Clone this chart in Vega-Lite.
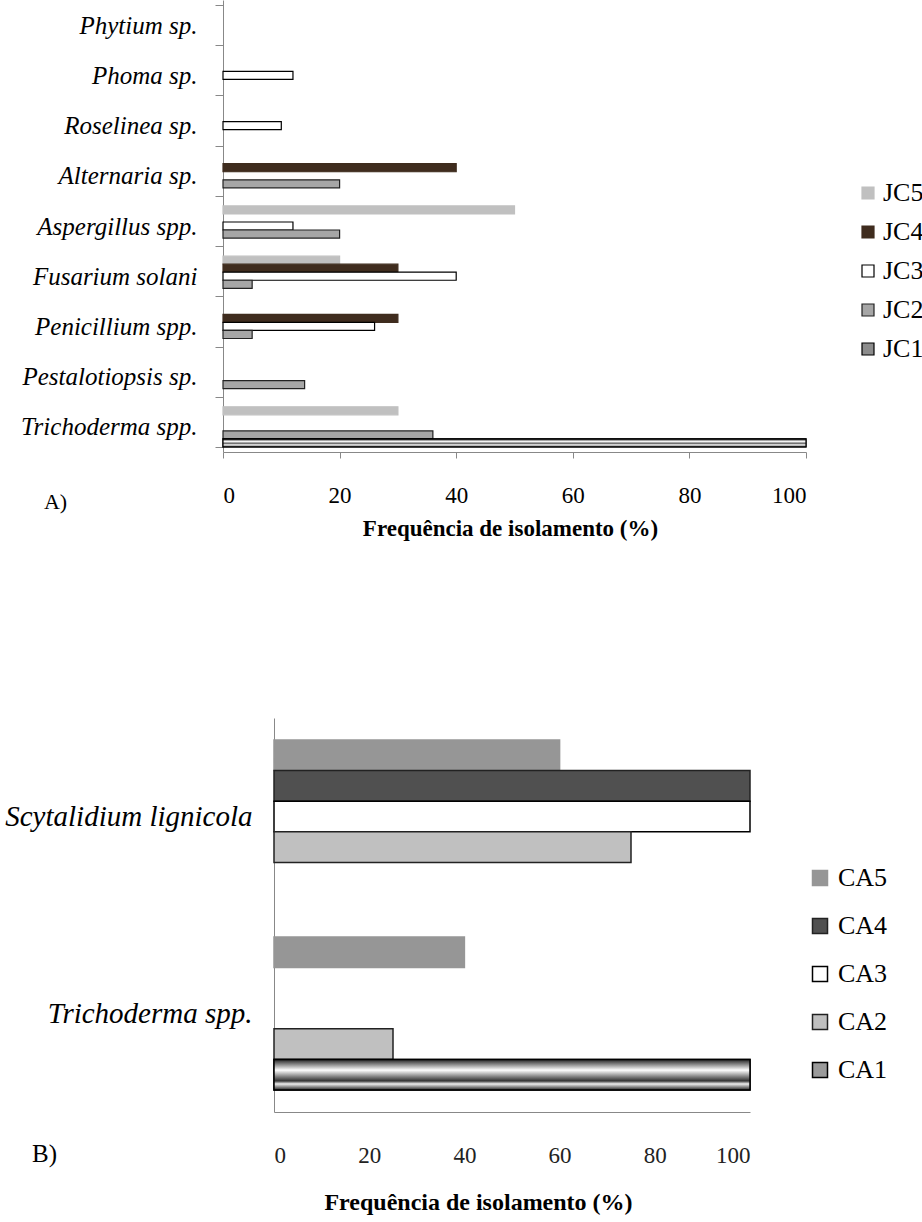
{
  "$schema": "https://vega.github.io/schema/vega-lite/v6.json",
  "background": "white",
  "width": 922,
  "height": 1222,
  "autosize": {"type": "none"},
  "padding": 0,
  "config": {
    "view": {"stroke": null},
    "font": "Liberation Serif",
    "axis": {"labelFont": "Liberation Serif", "titleFont": "Liberation Serif", "labelColor": "#000", "titleColor": "#000", "grid": false},
    "legend": {"labelFont": "Liberation Serif", "labelColor": "#000"}
  },
  "datasets": {
    "jc": [
      {"fungo": "Phytium sp.", "serie": "JC5", "valor": 0},
      {"fungo": "Phytium sp.", "serie": "JC4", "valor": 0},
      {"fungo": "Phytium sp.", "serie": "JC3", "valor": 0},
      {"fungo": "Phytium sp.", "serie": "JC2", "valor": 0},
      {"fungo": "Phytium sp.", "serie": "JC1", "valor": 0},
      {"fungo": "Phoma sp.", "serie": "JC5", "valor": 0},
      {"fungo": "Phoma sp.", "serie": "JC4", "valor": 0},
      {"fungo": "Phoma sp.", "serie": "JC3", "valor": 12},
      {"fungo": "Phoma sp.", "serie": "JC2", "valor": 0},
      {"fungo": "Phoma sp.", "serie": "JC1", "valor": 0},
      {"fungo": "Roselinea sp.", "serie": "JC5", "valor": 0},
      {"fungo": "Roselinea sp.", "serie": "JC4", "valor": 0},
      {"fungo": "Roselinea sp.", "serie": "JC3", "valor": 10},
      {"fungo": "Roselinea sp.", "serie": "JC2", "valor": 0},
      {"fungo": "Roselinea sp.", "serie": "JC1", "valor": 0},
      {"fungo": "Alternaria sp.", "serie": "JC5", "valor": 0},
      {"fungo": "Alternaria sp.", "serie": "JC4", "valor": 40},
      {"fungo": "Alternaria sp.", "serie": "JC3", "valor": 0},
      {"fungo": "Alternaria sp.", "serie": "JC2", "valor": 20},
      {"fungo": "Alternaria sp.", "serie": "JC1", "valor": 0},
      {"fungo": "Aspergillus spp.", "serie": "JC5", "valor": 50},
      {"fungo": "Aspergillus spp.", "serie": "JC4", "valor": 0},
      {"fungo": "Aspergillus spp.", "serie": "JC3", "valor": 12},
      {"fungo": "Aspergillus spp.", "serie": "JC2", "valor": 20},
      {"fungo": "Aspergillus spp.", "serie": "JC1", "valor": 0},
      {"fungo": "Fusarium solani", "serie": "JC5", "valor": 20},
      {"fungo": "Fusarium solani", "serie": "JC4", "valor": 30},
      {"fungo": "Fusarium solani", "serie": "JC3", "valor": 40},
      {"fungo": "Fusarium solani", "serie": "JC2", "valor": 5},
      {"fungo": "Fusarium solani", "serie": "JC1", "valor": 0},
      {"fungo": "Penicillium spp.", "serie": "JC5", "valor": 0},
      {"fungo": "Penicillium spp.", "serie": "JC4", "valor": 30},
      {"fungo": "Penicillium spp.", "serie": "JC3", "valor": 26},
      {"fungo": "Penicillium spp.", "serie": "JC2", "valor": 5},
      {"fungo": "Penicillium spp.", "serie": "JC1", "valor": 0},
      {"fungo": "Pestalotiopsis sp.", "serie": "JC5", "valor": 0},
      {"fungo": "Pestalotiopsis sp.", "serie": "JC4", "valor": 0},
      {"fungo": "Pestalotiopsis sp.", "serie": "JC3", "valor": 0},
      {"fungo": "Pestalotiopsis sp.", "serie": "JC2", "valor": 14},
      {"fungo": "Pestalotiopsis sp.", "serie": "JC1", "valor": 0},
      {"fungo": "Trichoderma spp.", "serie": "JC5", "valor": 30},
      {"fungo": "Trichoderma spp.", "serie": "JC4", "valor": 0},
      {"fungo": "Trichoderma spp.", "serie": "JC3", "valor": 0},
      {"fungo": "Trichoderma spp.", "serie": "JC2", "valor": 36},
      {"fungo": "Trichoderma spp.", "serie": "JC1", "valor": 100}
    ],
    "ca": [
      {"fungo": "Scytalidium lignicola", "amostra": "CA5", "valor": 60},
      {"fungo": "Scytalidium lignicola", "amostra": "CA4", "valor": 100},
      {"fungo": "Scytalidium lignicola", "amostra": "CA3", "valor": 100},
      {"fungo": "Scytalidium lignicola", "amostra": "CA2", "valor": 75},
      {"fungo": "Scytalidium lignicola", "amostra": "CA1", "valor": 0},
      {"fungo": "Trichoderma spp.", "amostra": "CA5", "valor": 40},
      {"fungo": "Trichoderma spp.", "amostra": "CA4", "valor": 0},
      {"fungo": "Trichoderma spp.", "amostra": "CA3", "valor": 0},
      {"fungo": "Trichoderma spp.", "amostra": "CA2", "valor": 25},
      {"fungo": "Trichoderma spp.", "amostra": "CA1", "valor": 100}
    ]
  },
  "resolve": {
    "scale": {"x": "independent", "y": "independent", "yOffset": "independent", "fill": "independent", "stroke": "independent"},
    "axis": {"x": "independent", "y": "independent"},
    "legend": {"fill": "independent", "stroke": "independent"}
  },
  "layer": [
    {
      "data": {"name": "jc"},
      "transform": [{"filter": "datum.valor > 0"}],
      "encoding": {
        "y": {
          "field": "fungo", "type": "nominal",
          "scale": {
            "domain": ["Phytium sp.", "Phoma sp.", "Roselinea sp.", "Alternaria sp.", "Aspergillus spp.", "Fusarium solani", "Penicillium spp.", "Pestalotiopsis sp.", "Trichoderma spp."],
            "range": [0, 452], "paddingInner": 0.2, "paddingOuter": 0.1
          },
          "axis": {
            "orient": "left", "offset": -223,
            "title": "A)", "titleAngle": 0, "titleX": -168, "titleY": 501, "titleAlign": "center", "titleBaseline": "middle",
            "titleFontSize": 22, "titleFontWeight": "normal",
            "labelFontSize": 25, "labelFontStyle": "italic", "labelPadding": 18, "labelLimit": 400,
            "tickSize": 8, "tickBand": "extent", "tickColor": "#888", "domainColor": "#888"
          }
        },
        "x": {
          "field": "valor", "type": "quantitative",
          "scale": {"domain": [0, 100], "range": [223, 806]},
          "axis": {
            "orient": "bottom", "offset": -770,
            "title": "Frequência de isolamento (%)", "titleFontSize": 23, "titleFontWeight": "bold",
            "titleX": 510, "titleY": 76, "titleAlign": "center", "titleBaseline": "middle",
            "values": [0, 20, 40, 60, 80, 100], "labelFontSize": 23, "labelPadding": 26,
            "tickSize": 6, "tickColor": "#888", "domainColor": "#888"
          }
        },
        "yOffset": {"field": "serie", "type": "nominal", "scale": {"domain": ["JC5", "JC4", "JC3", "JC2", "JC1"], "paddingInner": 0}}
      },
      "layer": [
        {
          "mark": {"type": "bar", "strokeWidth": 1.2},
          "encoding": {
            "fill": {
              "field": "serie", "type": "nominal",
              "scale": {"domain": ["JC5", "JC4", "JC3", "JC2", "JC1"], "range": ["#c0c0c0", "#3f2c1e", "#ffffff", "#a6a6a6", "#8c8c8c"]},
              "legend": {"orient": "none", "legendX": 855, "legendY": 180, "title": null, "symbolType": "square", "symbolSize": 144, "labelFontSize": 26, "rowPadding": 13, "labelOffset": 2, "symbolStrokeWidth": 1.2}
            },
            "stroke": {
              "field": "serie", "type": "nominal",
              "scale": {"domain": ["JC5", "JC4", "JC3", "JC2", "JC1"], "range": ["#c0c0c0", "#3f2c1e", "#000000", "#222222", "#000000"]},
              "legend": {"orient": "none", "legendX": 855, "legendY": 180, "title": null, "symbolType": "square", "symbolSize": 144, "labelFontSize": 26, "rowPadding": 13, "labelOffset": 2, "symbolStrokeWidth": 1.2}
            }
          }
        },
        {
          "transform": [{"filter": "datum.serie == 'JC1'"}],
          "mark": {
            "type": "bar", "stroke": "#000000", "strokeWidth": 1.2,
            "fill": {"gradient": "linear", "x1": 0, "y1": 0, "x2": 0, "y2": 1, "stops": [
              {"offset": 0, "color": "#000000"}, {"offset": 0.3, "color": "#ffffff"}, {"offset": 0.55, "color": "#666666"}, {"offset": 0.75, "color": "#ffffff"}, {"offset": 1, "color": "#000000"}
            ]}
          }
        }
      ]
    },
    {
      "data": {"name": "ca"},
      "transform": [{"filter": "datum.valor > 0"}],
      "encoding": {
        "y": {
          "field": "fungo", "type": "nominal",
          "scale": {"domain": ["Scytalidium lignicola", "Trichoderma spp."], "range": [718, 1112], "paddingInner": 0.223, "paddingOuter": 0.1115},
          "axis": {
            "orient": "left", "offset": -274,
            "title": "B)", "titleAngle": 0, "titleX": -230, "titleY": 1153, "titleAlign": "center", "titleBaseline": "middle",
            "titleFontSize": 25, "titleFontWeight": "normal",
            "labelFontSize": 29, "labelFontStyle": "italic", "labelPadding": 22, "labelLimit": 400,
            "ticks": false, "domainColor": "#888"
          }
        },
        "x": {
          "field": "valor", "type": "quantitative",
          "scale": {"domain": [0, 100], "range": [274, 750]},
          "axis": {
            "orient": "bottom", "offset": -110,
            "title": "Frequência de isolamento (%)", "titleFontSize": 24, "titleFontWeight": "bold",
            "titleX": 478, "titleY": 90, "titleAlign": "center", "titleBaseline": "middle",
            "values": [0, 20, 40, 60, 80, 100], "labelFontSize": 23, "labelPadding": 32, "labelColor": "#222",
            "ticks": false, "domainColor": "#888"
          }
        },
        "yOffset": {"field": "amostra", "type": "nominal", "scale": {"domain": ["CA5", "CA4", "CA3", "CA2", "CA1"], "paddingInner": 0}}
      },
      "layer": [
        {
          "mark": {"type": "bar", "strokeWidth": 1.5},
          "encoding": {
            "fill": {
              "field": "amostra", "type": "nominal",
              "scale": {"domain": ["CA5", "CA4", "CA3", "CA2", "CA1"], "range": ["#969696", "#505050", "#ffffff", "#c0c0c0", "#9a9a9a"]},
              "legend": {"orient": "none", "legendX": 807, "legendY": 865, "title": null, "symbolType": "square", "symbolSize": 225, "labelFontSize": 26, "rowPadding": 22, "labelOffset": 5, "symbolStrokeWidth": 1.5}
            },
            "stroke": {
              "field": "amostra", "type": "nominal",
              "scale": {"domain": ["CA5", "CA4", "CA3", "CA2", "CA1"], "range": ["#969696", "#222222", "#000000", "#222222", "#000000"]},
              "legend": {"orient": "none", "legendX": 807, "legendY": 865, "title": null, "symbolType": "square", "symbolSize": 225, "labelFontSize": 26, "rowPadding": 22, "labelOffset": 5, "symbolStrokeWidth": 1.5}
            }
          }
        },
        {
          "transform": [{"filter": "datum.amostra == 'CA1'"}],
          "mark": {
            "type": "bar", "stroke": "#000000", "strokeWidth": 1.5,
            "fill": {"gradient": "linear", "x1": 0, "y1": 0, "x2": 0, "y2": 1, "stops": [
              {"offset": 0, "color": "#222222"}, {"offset": 0.35, "color": "#ffffff"}, {"offset": 0.55, "color": "#888888"}, {"offset": 0.7, "color": "#333333"}, {"offset": 0.8, "color": "#eeeeee"}, {"offset": 1, "color": "#222222"}
            ]}
          }
        }
      ]
    }
  ]
}
